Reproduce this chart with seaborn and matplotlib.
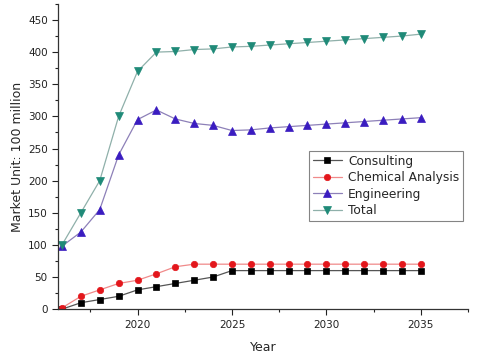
import matplotlib
matplotlib.use("Agg")
import matplotlib.pyplot as plt
from matplotlib.ticker import MultipleLocator
import seaborn as sns
import pandas as pd
import numpy as np

years = list(range(2016, 2036))
consulting = [0, 10, 15, 20, 30, 35, 40, 45, 50, 60, 60, 60, 60, 60, 60, 60, 60, 60, 60, 60]
chemical = [2, 20, 30, 40, 45, 55, 66, 70, 70, 70, 70, 70, 70, 70, 70, 70, 70, 70, 70, 70]
engineering = [98, 120, 155, 240, 295, 310, 296, 289, 286, 278, 279, 282, 284, 286, 288, 290, 292, 294, 296, 298]
total = [100, 150, 200, 300, 370, 400, 401, 404, 405, 408, 409, 411, 413, 415, 417, 419, 421, 423, 425, 428]
series_names = ["Consulting", "Chemical Analysis", "Engineering", "Total"]

df = pd.DataFrame({
    "Year": years * 4,
    "Value": consulting + chemical + engineering + total,
    "Series": sum([[n] * len(years) for n in series_names], []),
})

sns.set_style("ticks")
plt.rcParams["font.family"] = ["DejaVu Sans"]

marker_colors = {"Consulting": "#000000", "Chemical Analysis": "#e3161b",
                 "Engineering": "#3a1cc0", "Total": "#1f8a78"}
line_colors = {"Consulting": "#555555", "Chemical Analysis": "#f08a8a",
               "Engineering": "#8d80b8", "Total": "#8fb0aa"}
markers = {"Consulting": "s", "Chemical Analysis": "o", "Engineering": "^", "Total": "v"}
msizes = {"Consulting": 3.8, "Chemical Analysis": 4.6, "Engineering": 5.4, "Total": 5.4}

fig = plt.figure(figsize=(4.85, 3.57), dpi=100)
ax = fig.add_axes([0.12, 0.134, 0.845, 0.855])

sns.lineplot(data=df, x="Year", y="Value", hue="Series", style="Series",
             hue_order=series_names, style_order=series_names,
             palette=marker_colors, markers=markers, dashes=False,
             linewidth=0.9, ax=ax, legend=False)

for line, name in zip(ax.lines, series_names):
    c = marker_colors[name]
    line.set_markerfacecolor(c)
    line.set_markeredgecolor(c)
    line.set_markeredgewidth(0.5)
    line.set_markersize(msizes[name])
    line.set_color(line_colors[name])
    line.set_label(name)

ax.set_xlim(2015.8, 2037.5)
ax.set_ylim(0, 475)
ax.set_xticks([2020, 2025, 2030, 2035])
ax.set_yticks(range(0, 451, 50))
ax.xaxis.set_minor_locator(MultipleLocator(2.5))
ax.yaxis.set_minor_locator(MultipleLocator(25))
ax.tick_params(axis="both", which="major", labelsize=7.5, length=4, width=0.8, colors="#222222")
ax.tick_params(axis="both", which="minor", length=2.5, width=0.8, colors="#222222")
for s in ["left", "bottom"]:
    ax.spines[s].set_color("#333333")
    ax.spines[s].set_linewidth(0.9)
sns.despine(ax=ax)

ax.set_xlabel("Year", fontsize=9, labelpad=8)
ax.set_ylabel("Market Unit: 100 million", fontsize=9, labelpad=3)

leg = ax.legend(handles=ax.lines, labels=series_names, loc="upper left",
                bbox_to_anchor=(0.612, 0.518), fontsize=8.8, frameon=True,
                fancybox=False, edgecolor="#666666", handlelength=2.4,
                borderpad=0.3, labelspacing=0.28, handletextpad=0.5,
                borderaxespad=0)
leg.get_frame().set_linewidth(0.8)

fig.savefig("out.png", dpi=100)
